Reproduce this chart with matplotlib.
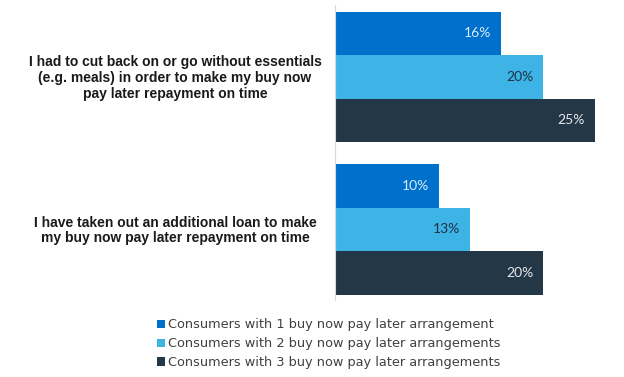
import matplotlib.pyplot as plt
import numpy as np

categories = [
    "I had to cut back on or go without essentials\n(e.g. meals) in order to make my buy now\npay later repayment on time",
    "I have taken out an additional loan to make\nmy buy now pay later repayment on time",
]
series_names = [
    "Consumers with 1 buy now pay later arrangement",
    "Consumers with 2 buy now pay later arrangements",
    "Consumers with 3 buy now pay later arrangements",
]
one_arrangement = [16, 10]
two_arrangements = [20, 13]
three_arrangements = [25, 20]

colors = ["#0070CD", "#3DB3E6", "#243746"]
label_colors = ["#D6ECFA", "#1F3344", "#E4E8EC"]

W, H = 624, 377
fig = plt.figure(figsize=(W / 100, H / 100), dpi=100)
# axes box in pixels: left 335, right 624, top 5, bottom 300
ax = fig.add_axes([335 / W, 1 - 300 / H, (624 - 335) / W, 295 / H])

bar_h = 43.5 / 152.5
y = np.arange(len(categories))
values = [one_arrangement, two_arrangements, three_arrangements]
for i, (vals, c, lc) in enumerate(zip(values, colors, label_colors)):
    pos = y + (i - 1) * bar_h
    bars = ax.barh(pos, vals, height=bar_h, color=c, label=series_names[i])
    for b, v in zip(bars, vals):
        ax.text(v - 0.95, b.get_y() + b.get_height() / 2, f"{v}%",
                ha="right", va="center", color=lc, fontsize=10, family="Lato")

ax.set_xlim(0, 289 / 10.4)
ax.set_ylim(1 + 70.5 / 152.5, -72 / 152.5)
ax.set_xticks([])
ax.set_yticks([])
for s in ["top", "right", "bottom"]:
    ax.spines[s].set_visible(False)
ax.spines["left"].set_color("#D9D9D9")
ax.spines["left"].set_linewidth(0.8)

for yy, cat in zip(y, categories):
    fig.text(175 / W, 1 - (78 + yy * 152.5) / H, cat, ha="center", va="center",
             fontsize=10, family="Liberation Sans", fontweight="bold",
             color="#1a1a1a", linespacing=1.15)

handles, labels = ax.get_legend_handles_labels()
leg = fig.legend(handles, labels, loc="upper left", bbox_to_anchor=(151 / W, 1 - 312 / H),
                 frameon=False, fontsize=9.3, handlelength=0.6, handleheight=0.6,
                 handletextpad=0.25, labelspacing=0.45, borderpad=0)
for t in leg.get_texts():
    t.set_color("#404040")

fig.savefig("out.png", dpi=100)
